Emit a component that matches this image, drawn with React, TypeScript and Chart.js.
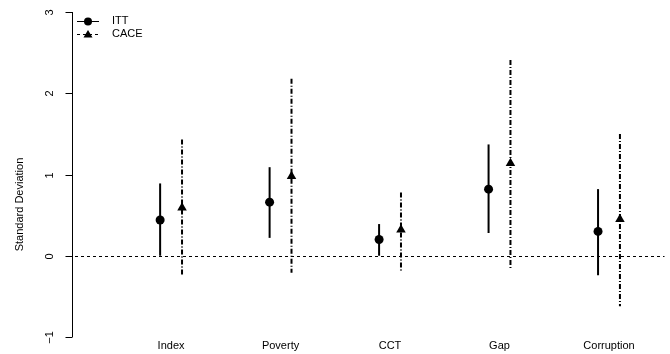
import React, { useEffect, useRef } from "react";
import { Chart, registerables } from "chart.js";
Chart.register(...registerables);

const categories = ["Index", "Poverty", "CCT", "Gap", "Corruption"];
const ittEstimate = [0.44, 0.66, 0.2, 0.82, 0.3];
const ittLower = [0.0, 0.22, 0.0, 0.28, -0.24];
const ittUpper = [0.89, 1.09, 0.39, 1.37, 0.82];
const caceEstimate = [0.59, 0.98, 0.32, 1.14, 0.45];
const caceLower = [-0.25, -0.21, -0.18, -0.16, -0.62];
const caceUpper = [1.43, 2.18, 0.78, 2.41, 1.5];
const yTicks = [-1, 0, 1, 2, 3];
const seriesNames = ["ITT", "CACE"];
const yTitle = "Standard Deviation";

const OFFSET = 0.1;
const FONT = "11px 'Liberation Sans', Arial, Helvetica, sans-serif";
const CACE_DASH = [5, 2, 1, 2];

const customPlugin = {
  id: "rstyle",
  beforeDatasetsDraw(chart: any) {
    const ctx = chart.ctx;
    const xs = chart.scales.x;
    const ys = chart.scales.y;
    const area = chart.chartArea;
    ctx.save();
    ctx.strokeStyle = "#000";
    ctx.lineWidth = 1;
    ctx.setLineDash([3, 3]);
    const y0 = Math.round(ys.getPixelForValue(0)) + 0.5;
    ctx.beginPath();
    ctx.moveTo(area.left + 3, y0);
    ctx.lineTo(area.right, y0);
    ctx.stroke();
    categories.forEach((_, i) => {
      const xi = xs.getPixelForValue(i + 1 - OFFSET);
      ctx.setLineDash([]);
      ctx.lineWidth = 2;
      ctx.beginPath();
      ctx.moveTo(xi, ys.getPixelForValue(ittLower[i]));
      ctx.lineTo(xi, ys.getPixelForValue(ittUpper[i]));
      ctx.stroke();
      const xc = xs.getPixelForValue(i + 1 + OFFSET);
      ctx.setLineDash(CACE_DASH);
      ctx.lineWidth = 2;
      ctx.beginPath();
      ctx.moveTo(xc, ys.getPixelForValue(caceUpper[i]));
      ctx.lineTo(xc, ys.getPixelForValue(caceLower[i]));
      ctx.stroke();
    });
    ctx.restore();
  },
  afterDraw(chart: any) {
    const ctx = chart.ctx;
    const xs = chart.scales.x;
    const ys = chart.scales.y;
    const area = chart.chartArea;
    ctx.save();
    ctx.fillStyle = "#000";
    ctx.strokeStyle = "#000";
    ctx.lineWidth = 1;
    ctx.setLineDash([]);
    const ax = area.left + 0.5;
    ctx.beginPath();
    ctx.moveTo(ax, ys.getPixelForValue(yTicks[0]));
    ctx.lineTo(ax, ys.getPixelForValue(yTicks[yTicks.length - 1]));
    ctx.stroke();
    ctx.font = FONT;
    ctx.textAlign = "center";
    ctx.textBaseline = "middle";
    yTicks.forEach((t) => {
      const py = Math.round(ys.getPixelForValue(t)) + 0.5;
      ctx.beginPath();
      ctx.moveTo(ax - 7, py);
      ctx.lineTo(ax, py);
      ctx.stroke();
      ctx.save();
      ctx.translate(50, py);
      ctx.rotate(-Math.PI / 2);
      ctx.fillText(t < 0 ? "\u2212" + Math.abs(t) : String(t), 0, 0);
      ctx.restore();
    });
    ctx.save();
    ctx.translate(20, ys.getPixelForValue(1) + 30);
    ctx.rotate(-Math.PI / 2);
    ctx.fillText(yTitle, 0, 0);
    ctx.restore();
    categories.forEach((c, i) => {
      ctx.fillText(c, xs.getPixelForValue(i + 1), 346);
    });
    const lx0 = 77, lx1 = 99, mx = 88;
    const rows = [21, 34];
    ctx.textAlign = "left";
    ctx.lineWidth = 1;
    ctx.beginPath();
    ctx.moveTo(lx0, rows[0] + 0.5);
    ctx.lineTo(lx1, rows[0] + 0.5);
    ctx.stroke();
    ctx.beginPath();
    ctx.arc(mx, rows[0] + 0.5, 4, 0, Math.PI * 2);
    ctx.fill();
    ctx.fillText(seriesNames[0], 112, rows[0]);
    ctx.setLineDash([3, 3]);
    ctx.beginPath();
    ctx.moveTo(lx0, rows[1] + 0.5);
    ctx.lineTo(lx1, rows[1] + 0.5);
    ctx.stroke();
    ctx.setLineDash([]);
    ctx.beginPath();
    ctx.moveTo(mx, rows[1] - 4);
    ctx.lineTo(mx + 4.5, rows[1] + 3.5);
    ctx.lineTo(mx - 4.5, rows[1] + 3.5);
    ctx.closePath();
    ctx.fill();
    ctx.fillText(seriesNames[1], 112, rows[1]);
    ctx.restore();
  },
};

export default function App() {
  const ref = useRef<HTMLCanvasElement | null>(null);
  useEffect(() => {
    if (!ref.current) return;
    const chart = new Chart(ref.current, {
      type: "scatter",
      data: {
        datasets: [
          {
            label: seriesNames[0],
            data: ittEstimate.map((v, i) => ({ x: i + 1 - OFFSET, y: v })),
            pointStyle: "circle",
            pointRadius: 4.5,
            backgroundColor: "#000",
            borderColor: "#000",
            borderWidth: 0,
          },
          {
            label: seriesNames[1],
            data: caceEstimate.map((v, i) => ({ x: i + 1 + OFFSET, y: v })),
            pointStyle: "triangle",
            pointRadius: 5.5,
            backgroundColor: "#000",
            borderColor: "#000",
            borderWidth: 0,
          },
        ],
      },
      options: {
        animation: false,
        responsive: false,
        maintainAspectRatio: false,
        layout: { padding: { left: 72, right: 0, top: 12, bottom: 17 } },
        plugins: { legend: { display: false }, tooltip: { enabled: false } },
        scales: {
          x: { type: "linear", min: 0.095, max: 5.507, display: false },
          y: { type: "linear", min: -1, max: 3, display: false },
        },
      },
      plugins: [customPlugin],
    });
    return () => chart.destroy();
  }, []);
  return (
    <div style={{ position: "fixed", left: 0, top: 0, width: 670, height: 354, background: "#fff" }}>
      <canvas ref={ref} width={670} height={354} style={{ width: 670, height: 354 }} />
    </div>
  );
}
